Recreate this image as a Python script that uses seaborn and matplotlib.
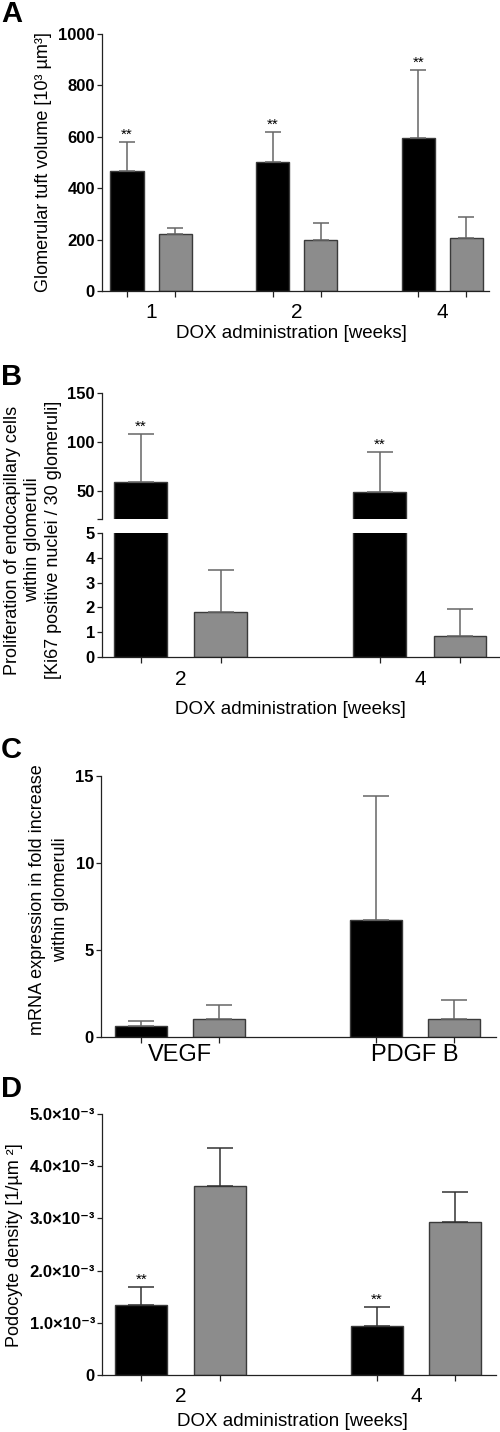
import numpy as np
import pandas as pd
import matplotlib
matplotlib.use('Agg')
import matplotlib.pyplot as plt
import seaborn as sns

# Panel A: glomerular tuft volume
A_weeks = ['1', '2', '4']
A_dox = [467, 502, 595]
A_dox_sd = [113, 117, 265]
A_ctrl = [222, 198, 206]
A_ctrl_sd = [23, 67, 82]

# Panel B: proliferation (broken axis)
B_weeks = ['2', '4']
B_dox = [59, 49]
B_dox_sd = [49, 41]
B_ctrl = [1.8, 0.85]
B_ctrl_sd = [1.7, 1.08]

# Panel C: mRNA expression
C_genes = ['VEGF', 'PDGF B']
C_dox = [0.63, 6.72]
C_dox_sd = [0.29, 7.13]
C_ctrl = [1.03, 1.03]
C_ctrl_sd = [0.81, 1.10]

# Panel D: podocyte density
D_weeks = ['2', '4']
D_dox = [1.34e-3, 0.94e-3]
D_dox_sd = [0.35e-3, 0.36e-3]
D_ctrl = [3.62e-3, 2.93e-3]
D_ctrl_sd = [0.73e-3, 0.57e-3]

sns.set_theme(style='ticks')
plt.rcParams['font.family'] = ['Liberation Sans', 'DejaVu Sans']
plt.rcParams['text.color'] = 'black'
plt.rcParams['axes.labelcolor'] = 'black'
plt.rcParams['xtick.labelcolor'] = 'black'
plt.rcParams['ytick.labelcolor'] = 'black'

W, H = 500, 1432
fig = plt.figure(figsize=(W / 100, H / 100), dpi=100)


def rect(x0, x1, y0, y1):
    # pixel box -> figure fraction
    return [x0 / W, 1 - y1 / H, (x1 - x0) / W, (y1 - y0) / H]


def bars(ax, cats, dox, dox_sd, ctrl, ctrl_sd, width, gap, stars, ecolor, capsize):
    n = len(cats)
    df = pd.DataFrame({'cat': cats * 2,
                       'grp': ['DOX'] * n + ['ctrl'] * n,
                       'val': dox + ctrl})
    sns.barplot(data=df, x='cat', y='val', hue='grp', hue_order=['DOX', 'ctrl'],
                palette={'DOX': 'black', 'ctrl': '#8c8c8c'}, width=width, gap=gap,
                errorbar=None, legend=False, ax=ax, edgecolor='#3a3a3a', linewidth=1.0)
    pats = sorted(ax.patches, key=lambda p: p.get_x())
    xs = [p.get_x() + p.get_width() / 2 for p in pats]
    vals, sds = [], []
    for i in range(n):
        vals += [dox[i], ctrl[i]]
        sds += [dox_sd[i], ctrl_sd[i]]
    vals, sds = np.array(vals), np.array(sds)
    # upper-only SD bars
    ax.errorbar(xs, vals, yerr=[np.zeros_like(sds), sds], fmt='none',
                ecolor=ecolor, elinewidth=1.1, capsize=capsize, capthick=1.1, zorder=1)
    if stars:
        for k in range(0, 2 * n, 2):
            ax.annotate('**', (xs[k], vals[k] + sds[k]), xytext=(0, 0),
                        textcoords='offset points', ha='center', va='bottom',
                        fontsize=11, annotation_clip=False)
    return xs


def style(ax, cats, xs, yticks, ylabels=None, xsize=15, bottom=True):
    sns.despine(ax=ax)
    for s in ['left', 'bottom']:
        ax.spines[s].set_linewidth(0.9)
        ax.spines[s].set_color('#222222')
    if ylabels is None:
        ylabels = [str(v) for v in yticks]
    ax.set_yticks(yticks, labels=ylabels, fontweight='bold', fontsize=12)
    ax.tick_params(axis='y', length=3.6, width=0.9, pad=1.5, color='#222222')
    if bottom:
        ax.set_xticks(range(len(cats)), labels=cats, fontsize=xsize)
        ax.set_xticks(xs, minor=True)
        ax.tick_params(axis='x', which='major', length=0, pad=9)
        ax.tick_params(axis='x', which='minor', length=4.5, width=0.9, color='#222222')
    ax.set_xlabel('')
    ax.set_ylabel('')


# ---- A ----
axA = fig.add_axes(rect(102, 489, 34, 291))
xs = bars(axA, A_weeks, A_dox, A_dox_sd, A_ctrl, A_ctrl_sd, 0.66, 0.31, True, '#666666', 5.5)
axA.set_xlim(-0.337, 2.32)
axA.set_ylim(0, 1000)
style(axA, A_weeks, xs, [0, 200, 400, 600, 800, 1000])
axA.set_xlabel('DOX administration [weeks]', fontsize=13.5, va='center')
axA.xaxis.set_label_coords(0.49, -0.167)
fig.text(44 / W, 1 - 162 / H, 'Glomerular tuft volume [10³ µm³]', rotation=90,
         ha='center', va='center', fontsize=13)

# ---- B (broken axis) ----
axBu = fig.add_axes(rect(102, 500, 393, 519))
axBl = fig.add_axes(rect(102, 500, 533, 657))
xs = bars(axBu, B_weeks, B_dox, B_dox_sd, B_ctrl, B_ctrl_sd, 0.67, 0.34, True, '#666666', 9.5)
bars(axBl, B_weeks, B_dox, B_dox_sd, B_ctrl, B_ctrl_sd, 0.67, 0.34, False, '#666666', 9.5)
for ax in (axBu, axBl):
    ax.set_xlim(-0.33, 1.335)
axBu.set_ylim(21.4, 150)
axBl.set_ylim(0, 5)
style(axBu, B_weeks, xs, [50, 100, 150], bottom=False)
axBu.set_yticks([21.4], minor=True)
axBu.spines['bottom'].set_visible(False)
axBu.set_xticks([])
axBu.tick_params(axis='y', which='minor', length=3.6, width=0.9, color='#222222')
style(axBl, B_weeks, xs, [0, 1, 2, 3, 4, 5])
axBl.set_xlabel('DOX administration [weeks]', fontsize=13.5, va='center')
axBl.xaxis.set_label_coords((290 - 102) / 398, -(709 - 657) / 124)
fig.text(33 / W, 1 - 540 / H,
         'Proliferation of endocapillary cells\nwithin glomeruli\n[Ki67 positive nuclei / 30 glomeruli]',
         rotation=90, ha='center', va='center', fontsize=13, linespacing=1.25)

# ---- C ----
axC = fig.add_axes(rect(101, 496, 776, 1037))
xs = bars(axC, C_genes, C_dox, C_dox_sd, C_ctrl, C_ctrl_sd, 0.67, 0.34, False, '#666666', 9.5)
axC.set_xlim(-0.336, 1.345)
axC.set_ylim(0, 15)
style(axC, C_genes, xs, [0, 5, 10, 15], xsize=17)
axC.tick_params(axis='x', which='major', pad=5)
fig.text(49 / W, 1 - 900 / H, 'mRNA expression in fold increase\nwithin glomeruli',
         rotation=90, ha='center', va='center', fontsize=13, linespacing=1.45)

# ---- D ----
axD = fig.add_axes(rect(102, 496, 1114, 1375))
xs = bars(axD, D_weeks, D_dox, D_dox_sd, D_ctrl, D_ctrl_sd, 0.67, 0.34, True, '#333333', 9.5)
axD.set_xlim(-0.335, 1.34)
axD.set_ylim(0, 5e-3)
D_ticks = [0, 1e-3, 2e-3, 3e-3, 4e-3, 5e-3]
style(axD, D_weeks, xs, D_ticks, ['0'] + ['%.1f×10⁻³' % (v * 1e3) for v in D_ticks[1:]])
axD.set_xlabel('DOX administration [weeks]', fontsize=13.5, va='center')
axD.xaxis.set_label_coords((292 - 102) / 394, -(1421 - 1375) / 261)
fig.text(15 / W, 1 - 1245 / H, 'Podocyte density [1/µm ²]', rotation=90,
         ha='center', va='center', fontsize=13)

# panel letters
for letter, base in [('A', 22), ('B', 385), ('C', 758), ('D', 1097)]:
    fig.text(1 / W, 1 - base / H, letter, fontsize=21, fontweight='bold',
             ha='left', va='baseline')

fig.savefig('out.png', dpi=100)
